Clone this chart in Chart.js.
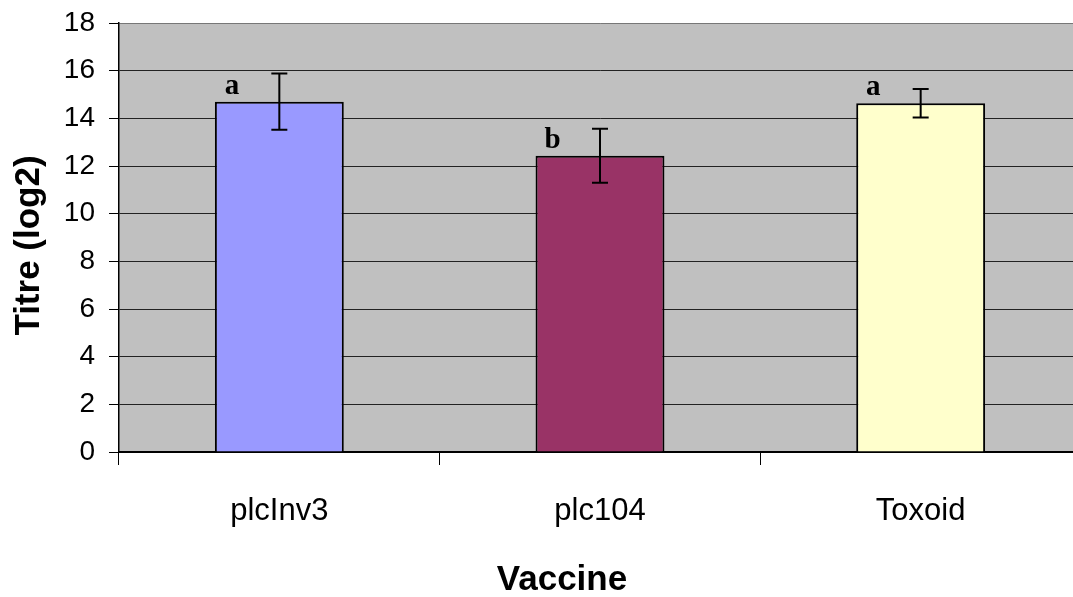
<!DOCTYPE html>
<html>
<head>
<meta charset="utf-8">
<script src="https://cdn.jsdelivr.net/npm/chart.js@4.4.1/dist/chart.umd.min.js"></script>
<style>
  html, body { margin: 0; padding: 0; background: #fff; overflow: hidden; }
  /* the original figure is cropped a few px inside the plot's right edge */
  #wrap { width: 1081px; height: 597px; position: relative; }
</style>
</head>
<body>
<div id="wrap"><canvas id="chart"></canvas></div>
<script>
// Vaccine titre data (log2)
const vaccines = ['plcInv3', 'plc104', 'Toxoid'];
const titres = [14.7, 12.43, 14.63];
const errors = [1.18, 1.13, 0.6];
const letters = ['a', 'b', 'a'];
const barColors = ['#9999FF', '#993366', '#FFFFCC'];

const fonts = {
  sans: "'Liberation Sans', Arial, sans-serif",
  serif: "'Liberation Serif', 'Times New Roman', serif"
};

// grey plot background
const plotBackground = {
  id: 'plotBackground',
  beforeDraw(chart) {
    const { ctx, chartArea: a } = chart;
    ctx.save();
    ctx.fillStyle = '#C0C0C0';
    ctx.fillRect(a.left, a.top, a.right - a.left, a.bottom - a.top);
    ctx.restore();
  }
};

// error bars + significance letters
const errorBars = {
  id: 'errorBars',
  afterDatasetsDraw(chart) {
    const { ctx } = chart;
    const y = chart.scales.y;
    const meta = chart.getDatasetMeta(0);
    ctx.save();
    meta.data.forEach((bar, i) => {
      const top = y.getPixelForValue(titres[i] + errors[i]);
      const bot = y.getPixelForValue(titres[i] - errors[i]);
      const cx = bar.x;
      ctx.strokeStyle = '#000';
      ctx.lineWidth = 2;
      ctx.beginPath();
      ctx.moveTo(cx, top); ctx.lineTo(cx, bot);
      ctx.moveTo(cx - 8, top); ctx.lineTo(cx + 8, top);
      ctx.moveTo(cx - 8, bot); ctx.lineTo(cx + 8, bot);
      ctx.stroke();

      ctx.fillStyle = '#000';
      ctx.font = 'bold 29px ' + fonts.serif;
      ctx.textAlign = 'center';
      ctx.textBaseline = 'alphabetic';
      ctx.fillText(letters[i], bar.x - bar.width / 2 + 17, bar.y - 8);
    });
    ctx.restore();
  }
};

// axis titles (the x title sits left of the plot centre in the original)
const axisTitles = {
  id: 'axisTitles',
  afterDraw(chart) {
    const { ctx, chartArea: a } = chart;
    ctx.save();
    ctx.fillStyle = '#000';
    ctx.font = 'bold 35px ' + fonts.sans;
    ctx.textAlign = 'center';
    ctx.textBaseline = 'alphabetic';
    ctx.fillText('Vaccine', 562, 590);
    ctx.translate(39, (a.top + a.bottom) / 2 + 8);
    ctx.rotate(-Math.PI / 2);
    ctx.fillText('Titre (log2)', 0, 0);
    ctx.restore();
  }
};

new Chart(document.getElementById('chart'), {
  type: 'bar',
  data: {
    labels: vaccines,
    datasets: [{
      data: titres,
      backgroundColor: barColors,
      borderColor: '#000',
      borderWidth: 2,
      categoryPercentage: 1,
      barPercentage: 0.402
    }]
  },
  options: {
    responsive: true,
    maintainAspectRatio: false,
    animation: false,
    layout: { padding: { top: 23, right: 0, left: 0, bottom: 0 } },
    plugins: {
      legend: { display: false },
      tooltip: { enabled: false }
    },
    scales: {
      y: {
        min: 0,
        max: 18,
        afterFit: (s) => {
          s.width = 119;
          s.paddingTop = 0;
          s.paddingBottom = 0;
        },
        ticks: {
          stepSize: 2,
          color: '#000',
          padding: 14,
          font: { family: fonts.sans, size: 28 }
        },
        grid: {
          color: (c) => c.tick && c.tick.value === 18 ? '#777' : '#222',
          lineWidth: 1,
          tickLength: 10,
          tickColor: '#000'
        },
        border: { display: true, color: '#000', width: 1.5 }
      },
      x: {
        afterFit: (s) => {
          s.height = 145;
          s.paddingLeft = 0;
          s.paddingRight = 0;
        },
        ticks: {
          color: '#000',
          padding: 28,
          font: { family: fonts.sans, size: 31 }
        },
        grid: {
          offset: true,
          drawOnChartArea: false,
          tickLength: 13,
          color: '#000'
        },
        border: { display: true, color: '#000', width: 2 }
      }
    }
  },
  plugins: [plotBackground, errorBars, axisTitles]
});
</script>
</body>
</html>
